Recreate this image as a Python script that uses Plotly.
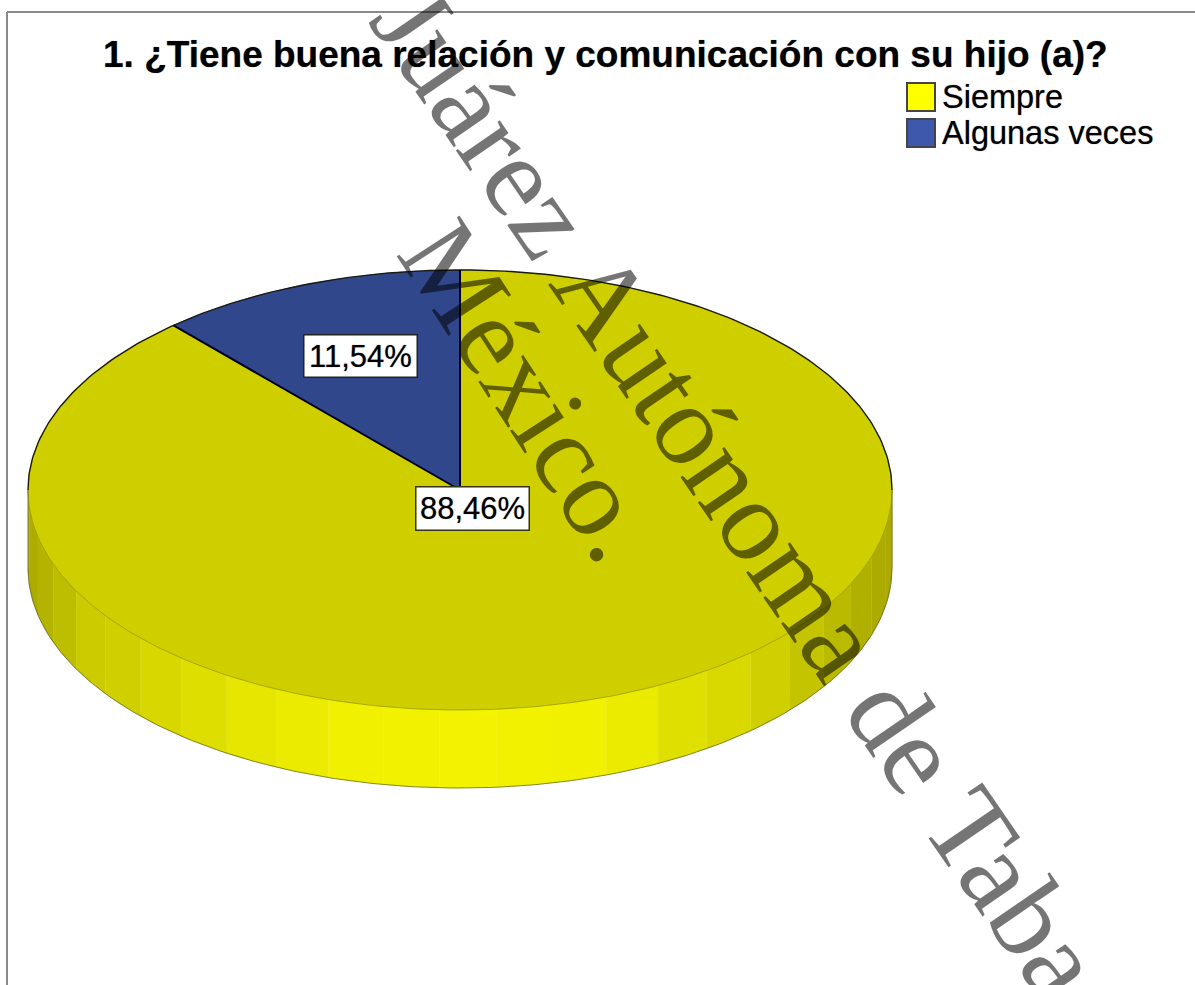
import numpy as np
import plotly.graph_objects as go

# ---- data ----
categories = ["Siempre", "Algunas veces"]
values = [88.46, 11.54]
value_labels = ["88,46%", "11,54%"]
title_text = "1. ¿Tiene buena relación y comunicación con su hijo (a)?"
watermark_main = "Juárez Autónoma de Tabasco"
watermark_second = "México."
top_colors = ["#CFCF00", "#30478C"]
legend_colors = ["#FFFF00", "#3E58AC"]
# brightness of the yellow side wall, one facet per 7.5 degrees, left to right
side_levels = [168, 172, 180, 190, 203, 208, 216, 222, 230, 235, 240, 242, 243,
               242, 240, 235, 224, 217, 208, 196, 186, 176, 172, 170, 168]

# ---- geometry of the drawing (pixels) ----
W, H = 1195, 985
CX, CY, RX, RY, DEPTH = 460, 490, 432, 220, 78
FACET = 7.5
FACET_OFFSET = -2.7


def ex(t):
    return CX + RX * np.cos(t)


def ey(t, off=0):
    return CY - RY * np.sin(t) + off


fig = go.Figure()


def poly(xs, ys, color):
    fig.add_trace(go.Scatter(x=xs, y=ys, mode="lines", fill="toself", fillcolor=color,
                             line=dict(color=color, width=0.6), hoverinfo="skip", showlegend=False))


def stroke(xs, ys, color, width):
    fig.add_trace(go.Scatter(x=xs, y=ys, mode="lines", line=dict(color=color, width=width),
                             hoverinfo="skip", showlegend=False))


# side wall facets
for i, lv in enumerate(side_levels):
    a0 = np.radians(180 + np.clip(i * FACET + FACET_OFFSET, 0, 180))
    a1 = np.radians(180 + np.clip((i + 1) * FACET + FACET_OFFSET, 0, 180))
    t = np.linspace(a0, a1, 12)
    xs = np.r_[ex(t), ex(t[::-1])]
    ys = np.r_[ey(t), ey(t[::-1], DEPTH)]
    poly(xs, ys, f"rgb({lv},{lv},0)")

# top slices: Algunas veces ends at 12 o'clock, going counter-clockwise
total = sum(values)
frac_blue = values[1] / total
t_top = np.pi / 2
t_split = t_top + frac_blue * 2 * np.pi
t_y = np.linspace(t_split, t_top + 2 * np.pi, 300)
t_b = np.linspace(t_top, t_split, 60)
poly(np.r_[CX, ex(t_y), CX], np.r_[CY, ey(t_y), CY], top_colors[0])
poly(np.r_[CX, ex(t_b), CX], np.r_[CY, ey(t_b), CY], top_colors[1])

# outlines
t_upper = np.linspace(0, np.pi, 200)
stroke(ex(t_upper), ey(t_upper), "#1a1a10", 1.4)
t_lower = np.linspace(np.pi, 2 * np.pi, 200)
stroke(ex(t_lower), ey(t_lower), "rgba(110,110,0,0.55)", 0.8)
stroke(ex(t_lower), ey(t_lower, DEPTH), "rgba(90,90,40,0.7)", 1.0)
stroke([CX, CX], [ey(t_top), CY], "#000020", 2)
stroke([ex(t_split), CX], [ey(t_split), CY], "#000020", 2)
stroke([ex(np.pi), ex(np.pi)], [CY, CY + DEPTH], "#77773a", 1)
stroke([ex(0), ex(0)], [CY, CY + DEPTH], "#77773a", 1)

SOFT = "0 0 1px rgba(0,0,0,0.55)"
annotations = [
    dict(x=605, y=54, text=f"<b>{title_text}</b>", showarrow=False,
         font=dict(family="Liberation Sans", size=37, color="black", shadow=SOFT)),
    dict(x=360.5, y=356, text=value_labels[1], showarrow=False, width=112, height=41, bgcolor="white",
         bordercolor="#222222", borderwidth=1.5, borderpad=0,
         font=dict(family="Liberation Sans", size=31, color="black", shadow=SOFT)),
    dict(x=472, y=508, text=value_labels[0], showarrow=False, width=112, height=42, bgcolor="white",
         bordercolor="#333311", borderwidth=1.5, borderpad=0,
         font=dict(family="Liberation Sans", size=31, color="black", shadow=SOFT)),
]
shapes = [
    dict(type="line", x0=7, x1=7, y0=12, y1=H, line=dict(color="#8a8a8a", width=2)),
    dict(type="line", x0=7, x1=W, y0=12, y1=12, line=dict(color="#8a8a8a", width=2)),
]
for i, (cat, col) in enumerate(zip(categories, legend_colors)):
    yc = 97 + i * 36
    shapes.append(dict(type="rect", x0=907, x1=935, y0=yc - 14, y1=yc + 14, fillcolor=col,
                       line=dict(color="#444444", width=2)))
    annotations.append(dict(x=940, y=yc, xanchor="left", text=cat, showarrow=False,
                            font=dict(family="Liberation Sans", size=32.5, color="black", shadow=SOFT)))

WM = dict(family="Liberation Serif", size=116, color="rgba(0,0,0,0.54)")
annotations.append(dict(x=782, y=556, text=watermark_main, textangle=55.5, showarrow=False, font=WM))
annotations.append(dict(x=530, y=390, text=watermark_second, textangle=57, showarrow=False,
                        font=dict(WM, size=114)))

fig.update_layout(
    width=W, height=H, margin=dict(l=0, r=0, t=0, b=0),
    paper_bgcolor="white", plot_bgcolor="white", showlegend=False,
    xaxis=dict(range=[0, W], visible=False, fixedrange=True),
    yaxis=dict(range=[H, 0], visible=False, fixedrange=True),
    annotations=annotations, shapes=shapes,
)
fig.write_html("out.html", config=dict(displayModeBar=False), post_script="document.body.style.margin='0';")
